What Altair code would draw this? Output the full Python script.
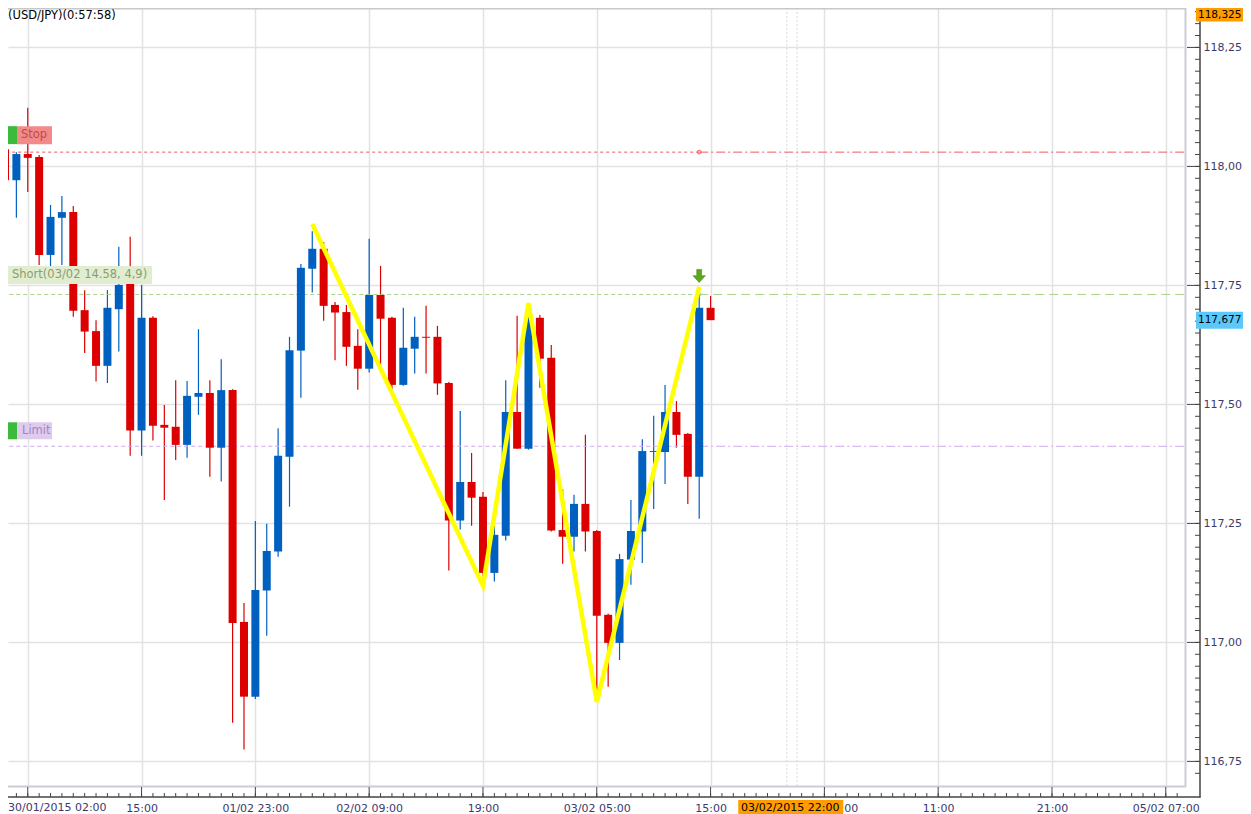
import json
import altair as alt
import pandas as pd

# ---------------- data ----------------
idx = list(range(63))
open_ = [118.036, 117.971, 118.026, 118.020, 117.814, 117.892, 117.904, 117.698, 117.654, 117.581,
         117.700, 117.789, 117.445, 117.682, 117.457, 117.453, 117.415, 117.516, 117.524, 117.409,
         117.530, 117.043, 116.886, 117.109, 117.191, 117.390, 117.613, 117.785, 117.827, 117.709,
         117.694, 117.623, 117.575, 117.730, 117.682, 117.541, 117.617, 117.642, 117.642, 117.545,
         117.256, 117.337, 117.306, 117.146, 117.224, 117.484, 117.407, 117.682, 117.598, 117.236,
         117.222, 117.291, 117.234, 117.058, 116.999, 117.174, 117.233, 117.400, 117.400, 117.484,
         117.438, 117.348, 117.703]
high_ = [118.047, 118.030, 118.123, 118.024, 117.919, 117.938, 117.917, 117.740, 117.677, 117.740,
         117.831, 117.852, 117.751, 117.685, 117.499, 117.551, 117.549, 117.658, 117.551, 117.595,
         117.532, 117.083, 117.255, 117.249, 117.450, 117.642, 117.795, 117.864, 117.841, 117.715,
         117.709, 117.658, 117.848, 117.791, 117.684, 117.703, 117.684, 117.707, 117.665, 117.547,
         117.486, 117.398, 117.316, 117.247, 117.551, 117.686, 117.713, 117.688, 117.625, 117.322,
         117.310, 117.436, 117.236, 117.060, 117.186, 117.299, 117.427, 117.476, 117.541, 117.507,
         117.440, 117.732, 117.728]
low_ = [117.911, 117.892, 117.946, 117.793, 117.789, 117.793, 117.684, 117.608, 117.548, 117.545,
        117.611, 117.392, 117.392, 117.424, 117.299, 117.383, 117.388, 117.478, 117.348, 117.338,
        116.831, 116.775, 116.881, 117.014, 117.180, 117.285, 117.514, 117.735, 117.676, 117.593,
        117.581, 117.531, 117.567, 117.579, 117.529, 117.539, 117.565, 117.565, 117.520, 117.151,
        117.237, 117.245, 117.135, 117.128, 117.214, 117.407, 117.405, 117.535, 117.233, 117.165,
        117.191, 117.191, 116.892, 116.907, 116.963, 117.121, 117.167, 117.280, 117.333, 117.409,
        117.291, 117.260, 117.677]
close_ = [117.971, 118.026, 118.018, 117.814, 117.894, 117.904, 117.697, 117.653, 117.581, 117.703,
          117.751, 117.445, 117.682, 117.455, 117.451, 117.415, 117.518, 117.524, 117.409, 117.530,
          117.041, 116.886, 117.110, 117.192, 117.392, 117.614, 117.787, 117.827, 117.707, 117.693,
          117.621, 117.575, 117.730, 117.680, 117.541, 117.619, 117.642, 117.640, 117.544, 117.256,
          117.337, 117.304, 117.146, 117.226, 117.484, 117.407, 117.682, 117.596, 117.235, 117.222,
          117.291, 117.233, 117.056, 116.999, 117.175, 117.234, 117.402, 117.402, 117.484, 117.436,
          117.348, 117.703, 117.677]

zz_idx = [27, 42, 46, 52, 61]
zz_price = [117.879, 117.119, 117.713, 116.875, 117.747]

level_names = ["Stop", "Short", "Limit"]
level_prices = [118.030, 117.731, 117.412]
order_idx = 61

x_tick_idx = [2, 12, 22, 32, 42, 52, 62, 72, 82, 92, 102]
x_tick_labels = ["30/01/2015 02:00", "15:00", "01/02 23:00", "02/02 09:00", "19:00",
                 "03/02 05:00", "15:00", "04/02 01:00", "11:00", "21:00", "05/02 07:00"]
y_ticks = [116.75, 117.00, 117.25, 117.50, 117.75, 118.00, 118.25]
now_idx = 69
now_label = "03/02/2015 22:00"
session_lines = [68.7, 69.6]
last_price = 117.677
top_price = 118.325
title_text = "(USD/JPY)(0:57:58)"
short_text = "Short(03/02 14.58, 4,9)"

# ---------------- styling ----------------
W, H = 1176, 777
FONT = "DejaVu Sans"
RED, BLUE = "#dd0000", "#0060c0"
GRID = "#e2e2e2"
AXC = "#3a3a6e"
STOP_C, SHORT_C, LIMIT_C = "#f05a5a", "#a6d48a", "#d2aaee"

xs = alt.Scale(domain=[0.264, 103.6], nice=False, zero=False, padding=0)
ys = alt.Scale(domain=[116.7004, 118.3328], nice=False, zero=False, padding=0)

lab_list = json.dumps([""] + x_tick_labels[1:])
xaxis = alt.Axis(values=x_tick_idx, grid=True, gridColor=GRID, gridWidth=1.5, domain=False,
                 ticks=False, tickSize=0, labelPadding=17, labelFont=FONT, labelFontSize=11,
                 labelColor=AXC, labelOverlap=False, labelFlush=False, title=None,
                 labelExpr=f"{lab_list}[round((datum.value-2)/10)]")
yaxis = alt.Axis(orient="right", values=y_ticks, format=".2f", grid=True, gridColor=GRID,
                 gridWidth=1.5, domain=False, ticks=False, tickSize=0, labelPadding=19,
                 labelFont=FONT, labelFontSize=11, labelColor=AXC, labelOverlap=False,
                 title=None, labelExpr="replace(datum.label, '.', ',')")

candles = pd.DataFrame({"i": idx, "o": open_, "h": high_, "l": low_, "c": close_})
dirscale = alt.Scale(domain=["up", "down"], range=[BLUE, RED])

base = alt.Chart(candles).transform_calculate(dir="datum.c >= datum.o ? 'up' : 'down'")
wicks = base.mark_rule(strokeWidth=1.2).encode(
    x=alt.X("i:Q", scale=xs, axis=xaxis),
    y=alt.Y("l:Q", scale=ys, axis=yaxis),
    y2="h:Q",
    color=alt.Color("dir:N", scale=dirscale, legend=None),
)
bodies = base.mark_bar(size=8).encode(
    x=alt.X("i:Q"), y=alt.Y("o:Q"), y2="c:Q",
    color=alt.Color("dir:N", scale=dirscale, legend=None),
)

one = pd.DataFrame({"a": [0]})

# frame lines
frame = alt.layer(
    alt.Chart(one).mark_rule(color="#c9cdd6", strokeWidth=2).encode(
        x=alt.value(0), x2=alt.value(W + 2), y=alt.value(H + 1.5)),
    alt.Chart(one).mark_rule(color="#c9cdd6", strokeWidth=2).encode(
        x=alt.value(W + 1.5), y=alt.value(0), y2=alt.value(H + 2)),
    alt.Chart(one).mark_rule(color="#c8c8c8", strokeWidth=2).encode(
        x=alt.value(0), x2=alt.value(W + 2), y=alt.value(0.5)),
    alt.Chart(one).mark_rule(color="#444444", strokeWidth=1.5).encode(
        x=alt.value(0), x2=alt.value(1192.5), y=alt.value(789)),
    alt.Chart(one).mark_rule(color="#444444", strokeWidth=1.5).encode(
        x=alt.value(1192), y=alt.value(0), y2=alt.value(789.5)),
)

minor_x = pd.DataFrame({"i": list(range(0, 104))})
xticks_minor = alt.Chart(minor_x).mark_rule(color="#444444").encode(
    x="i:Q", y=alt.value(785), y2=alt.value(789))
xticks_major = alt.Chart(pd.DataFrame({"i": x_tick_idx})).mark_rule(color="#444444").encode(
    x="i:Q", y=alt.value(779), y2=alt.value(789))
minor_p = [round(116.725 + 0.025 * k, 3) for k in range(65)]
yticks_minor = alt.Chart(pd.DataFrame({"p": minor_p})).mark_rule(color="#444444").encode(
    y="p:Q", x=alt.value(1187), x2=alt.value(1192))
yticks_major = alt.Chart(pd.DataFrame({"p": y_ticks})).mark_rule(color="#444444").encode(
    y="p:Q", x=alt.value(1179), x2=alt.value(1192))

sess = alt.Chart(pd.DataFrame({"i": session_lines})).mark_rule(
    color="#d9d9d9", strokeDash=[2, 2]).encode(x="i:Q", y=alt.value(0), y2=alt.value(H))


def level_layers(price, color, left_dash, right_dash):
    d = pd.DataFrame({"p": [price]})
    return alt.layer(
        alt.Chart(d).mark_rule(strokeDash=left_dash, strokeWidth=1, color=color).encode(
            x=alt.X(datum=order_idx), x2=alt.value(0), y="p:Q"),
        alt.Chart(d).mark_rule(strokeDash=right_dash, strokeWidth=1, color=color).encode(
            x=alt.X(datum=order_idx), x2=alt.value(W), y="p:Q"),
        alt.Chart(d).mark_point(size=14, filled=False, strokeWidth=1, color=color, opacity=1).encode(
            x=alt.X(datum=order_idx), y="p:Q"),
    )


lvl_stop = level_layers(level_prices[0], STOP_C, [3, 3], [9, 3, 2, 3])
lvl_short = level_layers(level_prices[1], SHORT_C, [4, 3], [9, 5])
lvl_limit = level_layers(level_prices[2], LIMIT_C, [4, 3], [9, 3, 2, 3])

zig = alt.Chart(pd.DataFrame({"i": zz_idx, "p": zz_price})).mark_line(
    color="#ffff00", strokeWidth=4.5).encode(x="i:Q", y="p:Q", order="i:Q")

arrow_path = "M -0.38 -1 L 0.38 -1 L 0.38 -0.05 L 0.95 -0.05 L 0 1 L -0.95 -0.05 L -0.38 -0.05 Z"
arrow = alt.Chart(pd.DataFrame({"i": [order_idx], "p": [high_[order_idx]]})).mark_point(
    shape=arrow_path, filled=True, size=170, color="#5ea620", opacity=1, yOffset=-18,
    stroke="#3f7f10", strokeWidth=0.5).encode(x="i:Q", y="p:Q")


# label tags for the order lines
def tag(price, box_x0, box_x1, off_top, off_bot, fill, txt, txt_color, txt_x, green=True):
    d = pd.DataFrame({"p": [price], "t": [txt]})
    layers = []
    if green:
        layers.append(alt.Chart(d).mark_rect(color="#3cba3c", yOffset=off_top, y2Offset=off_bot).encode(
            x=alt.value(box_x0 - 10), x2=alt.value(box_x0), y="p:Q", y2="p:Q"))
    layers.append(alt.Chart(d).mark_rect(color=fill, yOffset=off_top, y2Offset=off_bot).encode(
        x=alt.value(box_x0), x2=alt.value(box_x1), y="p:Q", y2="p:Q"))
    layers.append(alt.Chart(d).mark_text(align="left", baseline="middle", font=FONT, fontSize=11.5,
                                         color=txt_color, dy=(off_top + off_bot) / 2).encode(
        x=alt.value(txt_x), y="p:Q", text="t:N"))
    return alt.layer(*layers)


tag_stop = tag(level_prices[0], 9, 44, -26, -8, "#f38a8a", level_names[0], "#c24a4a", 13)
tag_short = tag(level_prices[1], -1, 144, -28.5, -10.5, "#e1edd0", short_text, "#8c9c70", 4, green=False)
tag_limit = tag(level_prices[2], 9, 44, -24, -7, "#decbee", level_names[2], "#a286c6", 14)


# price boxes on the right axis
def price_box(price, fill, top=-8.5, bot=8.5):
    d = pd.DataFrame({"p": [price]})
    return alt.layer(
        alt.Chart(d).mark_rect(yOffset=top, y2Offset=bot, color=fill).encode(
            x=alt.value(1188), x2=alt.value(1235), y="p:Q", y2="p:Q"),
        alt.Chart(d).transform_calculate(
            t="replace(format(datum.p, '.3f'), '.', ',')").mark_text(
            align="left", baseline="middle", font=FONT, fontSize=10.5, color="#000000",
            dy=(top + bot) / 2).encode(
            x=alt.value(1190), y="p:Q", text="t:N"),
    )


pbox_top = price_box(top_price, "#ff9c00", -3.7, 9.8)
pbox_last = price_box(last_price, "#5cc8f8")

# current time box on the bottom axis
nowd = pd.DataFrame({"i": [now_idx], "t": [now_label]})
nowbox = alt.Chart(nowd).mark_rect(color="#ff9c00", xOffset=-52, x2Offset=53).encode(
    x="i:Q", x2="i:Q", y=alt.value(792), y2=alt.value(806))
nowtxt = alt.Chart(nowd).mark_text(baseline="top", font=FONT, fontSize=11, color="#000000").encode(
    x="i:Q", y=alt.value(794), text="t:N")

first_lab = alt.Chart(pd.DataFrame({"t": [x_tick_labels[0]]})).mark_text(
    align="left", baseline="top", font=FONT, fontSize=11, color=AXC).encode(
    x=alt.value(0), y=alt.value(794), text="t:N")

title = alt.Chart(pd.DataFrame({"t": [title_text]})).mark_text(
    align="left", baseline="top", font=FONT, fontSize=11.5, color="#000000").encode(
    x=alt.value(0), y=alt.value(2), text="t:N")

chart = alt.layer(
    wicks, sess, frame, xticks_minor, xticks_major, yticks_minor, yticks_major,
    lvl_stop, lvl_short, lvl_limit, bodies, zig, arrow,
    tag_stop, tag_short, tag_limit, pbox_top, pbox_last, nowbox, nowtxt, first_lab, title,
).properties(
    width=W, height=H,
    autosize=alt.AutoSizeParams(type="none"),
    padding={"left": 0, "top": 0, "right": 59, "bottom": 29},
    background="white",
).configure_view(stroke=None)

chart.save("out.html", embed_options={"renderer": "svg", "actions": False})
